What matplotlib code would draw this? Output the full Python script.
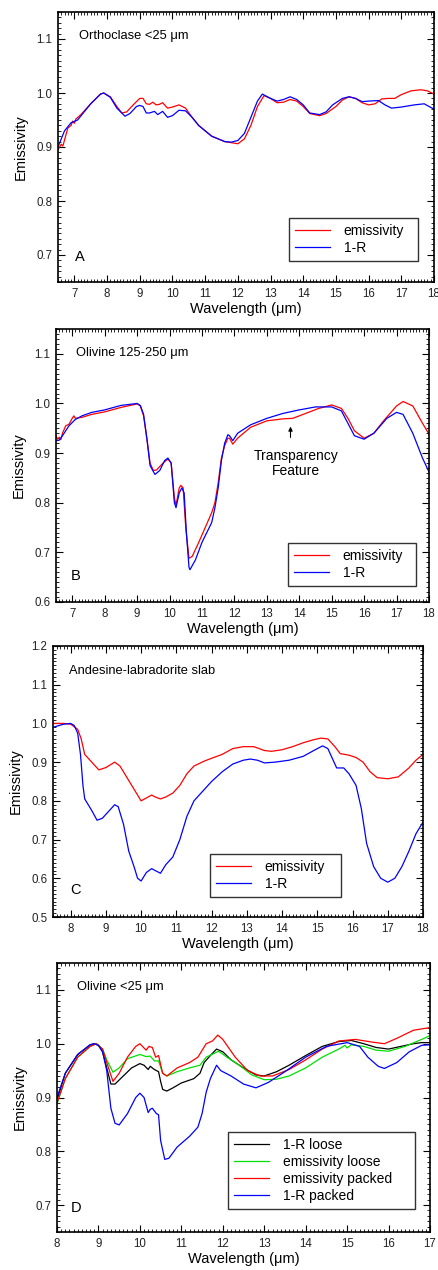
import numpy as np
import matplotlib.pyplot as plt
from matplotlib.ticker import MultipleLocator

plt.rcParams['font.family'] = ['Liberation Sans', 'DejaVu Sans']

# ---- Panel A: Orthoclase <25 um ----
a_em_x = [6.5, 6.6, 6.65, 6.8, 6.9, 6.95, 7.0, 7.05, 7.2, 7.5, 7.8, 7.9, 8.1, 8.3, 8.45, 8.6, 8.8, 9.0,
          9.1, 9.2, 9.3, 9.4, 9.5, 9.6, 9.7, 9.85, 10.0, 10.2, 10.4, 10.6, 10.8, 11.0, 11.2, 11.4,
          11.6, 11.8, 12.0, 12.2, 12.4, 12.6, 12.8, 13.0, 13.2, 13.4, 13.6, 13.8, 14.0, 14.2, 14.5,
          14.7, 15.0, 15.2, 15.4, 15.6, 15.8, 16.0, 16.2, 16.4, 16.6, 16.8, 17.0, 17.3, 17.6, 17.8, 18.0]
a_em_y = [0.895, 0.905, 0.902, 0.935, 0.94, 0.948, 0.944, 0.952, 0.96, 0.98, 0.998, 1.0, 0.993, 0.975,
          0.963, 0.965, 0.978, 0.99, 0.99, 0.98, 0.979, 0.983, 0.978, 0.979, 0.982, 0.972, 0.974,
          0.978, 0.972, 0.955, 0.94, 0.93, 0.92, 0.915, 0.91, 0.908, 0.906, 0.915, 0.94, 0.975, 0.995,
          0.99, 0.982, 0.983, 0.988, 0.985, 0.975, 0.962, 0.958, 0.962, 0.975, 0.987, 0.993, 0.99,
          0.982, 0.978, 0.98, 0.989, 0.99, 0.99, 0.997, 1.004, 1.006, 1.004, 0.998]
a_r_x = [6.5, 6.7, 6.9, 7.1, 7.3, 7.5, 7.8, 7.9, 8.1, 8.3, 8.55, 8.7, 8.9, 9.0, 9.1, 9.2, 9.3, 9.45,
         9.55, 9.7, 9.85, 10.0, 10.2, 10.4, 10.6, 10.8, 11.0, 11.2, 11.4, 11.6, 11.8, 12.0, 12.2, 12.4,
         12.6, 12.75, 13.0, 13.2, 13.4, 13.6, 13.8, 14.0, 14.2, 14.5, 14.7, 14.9, 15.2, 15.4, 15.6,
         15.8, 16.0, 16.3, 16.5, 16.7, 17.0, 17.4, 17.7, 18.0]
a_r_y = [0.9, 0.93, 0.945, 0.95, 0.965, 0.98, 0.998, 1.0, 0.992, 0.972, 0.957, 0.962, 0.975, 0.977,
         0.975, 0.963, 0.963, 0.966, 0.96, 0.966, 0.955, 0.958, 0.968, 0.967, 0.955, 0.94, 0.93, 0.92,
         0.915, 0.91, 0.909, 0.912, 0.925, 0.955, 0.985, 0.998, 0.99, 0.985, 0.988, 0.993, 0.988,
         0.978, 0.963, 0.96, 0.965, 0.978, 0.99, 0.993, 0.99, 0.984, 0.985, 0.986, 0.978, 0.972,
         0.974, 0.978, 0.98, 0.97]

# ---- Panel B: Olivine 125-250 um ----
b_em_x = [6.5, 6.55, 6.6, 6.65, 6.7, 6.8, 6.9, 7.0, 7.05, 7.1, 7.3, 7.6, 8.0, 8.5, 9.0, 9.1, 9.2, 9.3,
          9.4, 9.5, 9.6, 9.8, 9.95, 10.05, 10.15, 10.2, 10.3, 10.35, 10.42, 10.5, 10.6, 10.7, 10.9,
          11.1, 11.3, 11.4, 11.5, 11.6, 11.7, 11.8, 11.85, 11.95, 12.1, 12.5, 13.0, 13.5, 13.8, 14.2,
          14.6, 15.0, 15.3, 15.5, 15.7, 16.0, 16.3, 16.6, 17.0, 17.2, 17.5, 17.8, 18.0]
b_em_y = [0.935, 0.928, 0.932, 0.927, 0.94, 0.955, 0.958, 0.97, 0.975, 0.97, 0.972, 0.978, 0.983,
          0.992, 0.999, 0.995, 0.975, 0.93, 0.88, 0.865, 0.866, 0.88, 0.888, 0.88, 0.81, 0.795, 0.83,
          0.835, 0.83, 0.75, 0.688, 0.692, 0.72, 0.75, 0.78, 0.8, 0.84, 0.89, 0.915, 0.93, 0.93,
          0.918, 0.93, 0.952, 0.965, 0.969, 0.97, 0.98, 0.99, 0.997, 0.99, 0.97, 0.945, 0.93, 0.94,
          0.965, 0.995, 1.004, 0.995, 0.96, 0.938]
b_r_x = [6.5, 6.6, 6.7, 6.9, 7.1, 7.3, 7.6, 8.0, 8.5, 9.0, 9.1, 9.2, 9.3, 9.4, 9.55, 9.7, 9.85, 9.95,
         10.05, 10.15, 10.2, 10.3, 10.38, 10.45, 10.52, 10.6, 10.63, 10.8, 11.0, 11.3, 11.4, 11.5,
         11.6, 11.7, 11.8, 11.85, 11.95, 12.1, 12.5, 13.0, 13.5, 14.0, 14.5, 15.0, 15.3, 15.5, 15.7,
         16.0, 16.3, 16.7, 17.0, 17.2, 17.5, 17.8, 18.0]
b_r_y = [0.925, 0.926, 0.935, 0.955, 0.968, 0.975, 0.982, 0.987, 0.996, 1.0, 0.996, 0.978, 0.93,
         0.875, 0.857, 0.865, 0.885, 0.89, 0.88, 0.8, 0.79, 0.82, 0.83, 0.82, 0.74, 0.67, 0.665,
         0.685, 0.72, 0.76, 0.79, 0.83, 0.885, 0.92, 0.937, 0.935, 0.925, 0.94, 0.957, 0.97, 0.98,
         0.987, 0.993, 0.993, 0.985, 0.96, 0.935, 0.928, 0.94, 0.97, 0.982, 0.978, 0.94, 0.89, 0.862]

# ---- Panel C: Andesine-labradorite slab ----
c_em_x = [7.5, 7.8, 8.0, 8.2, 8.3, 8.4, 8.6, 8.8, 9.0, 9.25, 9.4, 9.6, 9.8, 10.0, 10.1, 10.3, 10.4,
          10.55, 10.7, 10.9, 11.1, 11.3, 11.5, 11.8, 12.0, 12.3, 12.6, 12.9, 13.2, 13.5, 13.7, 14.0,
          14.3, 14.6, 14.9, 15.1, 15.3, 15.5, 15.65, 15.9, 16.1, 16.3, 16.5, 16.7, 17.0, 17.3, 17.6,
          17.8, 18.0]
c_em_y = [1.0, 1.0, 0.998, 0.985, 0.96, 0.92, 0.9, 0.88, 0.886, 0.9, 0.89, 0.86, 0.83, 0.8, 0.805,
          0.815, 0.81, 0.805, 0.81, 0.82, 0.84, 0.87, 0.89, 0.903, 0.91, 0.92, 0.935, 0.94, 0.94,
          0.93, 0.928, 0.932, 0.94, 0.95, 0.958, 0.962, 0.96, 0.94, 0.922, 0.918, 0.912, 0.9, 0.875,
          0.86, 0.857, 0.862, 0.885, 0.905, 0.92]
c_r_x = [7.5, 7.8, 8.0, 8.1, 8.2, 8.28, 8.35, 8.4, 8.5, 8.6, 8.75, 8.9, 9.1, 9.25, 9.35, 9.5, 9.65,
         9.8, 9.9, 10.0, 10.15, 10.3, 10.4, 10.55, 10.7, 10.9, 11.1, 11.3, 11.5, 11.8, 12.0, 12.3,
         12.6, 12.9, 13.1, 13.3, 13.5, 13.8, 14.2, 14.6, 14.9, 15.15, 15.3, 15.45, 15.55, 15.75,
         15.9, 16.1, 16.25, 16.4, 16.6, 16.8, 17.0, 17.2, 17.4, 17.6, 17.8, 18.0]
c_r_y = [0.99, 0.998, 1.0, 0.995, 0.975, 0.92, 0.84, 0.805, 0.79, 0.775, 0.75, 0.755, 0.775, 0.79,
         0.785, 0.74, 0.67, 0.63, 0.6, 0.593, 0.615, 0.625, 0.62, 0.613, 0.635, 0.655, 0.7, 0.76,
         0.8, 0.83, 0.85, 0.875, 0.895, 0.905, 0.908, 0.905, 0.898, 0.9, 0.905, 0.915, 0.93, 0.942,
         0.935, 0.905, 0.885, 0.885, 0.87, 0.84, 0.78, 0.69, 0.63, 0.6, 0.59, 0.6, 0.63, 0.67,
         0.715, 0.745]

# ---- Panel D: Olivine <25 um ----
d_rl_x = [8.0, 8.2, 8.5, 8.8, 8.9, 9.0, 9.1, 9.2, 9.3, 9.4, 9.6, 9.8, 10.0, 10.1, 10.2, 10.25, 10.35,
          10.45, 10.5, 10.55, 10.65, 10.8, 11.0, 11.3, 11.45, 11.55, 11.7, 11.85, 12.0, 12.2, 12.5,
          12.8, 13.0, 13.3, 13.6, 14.0, 14.4, 14.8, 15.1, 15.4, 15.7, 16.0, 16.3, 16.6, 16.8, 17.0]
d_rl_y = [0.895, 0.945, 0.98, 0.998, 1.0, 0.997, 0.985, 0.955, 0.925, 0.925, 0.94, 0.955, 0.963,
          0.96, 0.952, 0.958, 0.952, 0.948, 0.93, 0.915, 0.912, 0.918, 0.927, 0.935, 0.945, 0.965,
          0.978, 0.99, 0.985, 0.97, 0.955, 0.942, 0.94, 0.948, 0.96, 0.978, 0.995, 1.004, 1.006,
          1.0, 0.993, 0.99, 0.995, 1.0, 1.002, 1.002]
d_el_x = [8.0, 8.2, 8.5, 8.8, 8.95, 9.1, 9.2, 9.35, 9.5, 9.7, 10.0, 10.15, 10.25, 10.35, 10.45, 10.55,
          10.65, 10.9, 11.2, 11.45, 11.6, 11.9, 12.1, 12.4, 12.7, 13.0, 13.3, 13.6, 14.0, 14.4, 14.8,
          14.95, 15.0, 15.1, 15.4, 15.7, 16.0, 16.4, 16.8, 17.0]
d_el_y = [0.888, 0.935, 0.975, 0.995, 1.0, 0.99, 0.97, 0.947, 0.955, 0.972, 0.98, 0.976, 0.977,
          0.968, 0.968, 0.945, 0.94, 0.948, 0.955, 0.96, 0.975, 0.986, 0.975, 0.96, 0.942, 0.933,
          0.934, 0.94, 0.955, 0.975, 0.99, 0.997, 0.992, 0.998, 0.995, 0.988, 0.986, 0.995, 1.008,
          1.015]
d_ep_x = [8.0, 8.2, 8.5, 8.8, 8.95, 9.1, 9.2, 9.35, 9.5, 9.7, 9.9, 10.0, 10.15, 10.22, 10.3, 10.38,
          10.45, 10.55, 10.65, 10.9, 11.2, 11.4, 11.6, 11.75, 11.88, 12.0, 12.3, 12.6, 12.9, 13.2,
          13.6, 14.0, 14.4, 14.8, 15.2, 15.6, 15.9, 16.2, 16.6, 17.0]
d_ep_y = [0.89, 0.935, 0.975, 0.995, 1.0, 0.99, 0.965, 0.93, 0.945, 0.975, 0.995, 1.0, 0.988, 0.995,
          0.993, 0.975, 0.978, 0.945, 0.94, 0.955, 0.965, 0.975, 1.0, 1.005, 1.016, 1.008, 0.975,
          0.95, 0.94, 0.94, 0.952, 0.97, 0.99, 1.005, 1.008, 1.003, 1.0, 1.01, 1.025, 1.03]
d_rp_x = [8.0, 8.2, 8.5, 8.8, 8.9, 9.0, 9.1, 9.2, 9.3, 9.4, 9.5, 9.7, 9.9, 10.0, 10.1, 10.2, 10.25,
          10.3, 10.4, 10.45, 10.5, 10.6, 10.7, 10.9, 11.2, 11.4, 11.5, 11.6, 11.7, 11.85, 11.95, 12.2,
          12.5, 12.8, 13.1, 13.5, 14.0, 14.5, 15.0, 15.3, 15.5, 15.75, 15.9, 16.2, 16.5, 16.8, 17.0]
d_rp_y = [0.9, 0.945, 0.98, 0.998, 1.0, 0.997, 0.985, 0.95, 0.88, 0.852, 0.849, 0.87, 0.9, 0.908,
          0.9, 0.872, 0.878, 0.88, 0.87, 0.868, 0.82, 0.785, 0.787, 0.808, 0.828, 0.845, 0.87, 0.91,
          0.935, 0.96, 0.95, 0.94, 0.925, 0.918, 0.928, 0.948, 0.975, 0.995, 1.002, 0.995, 0.975,
          0.958, 0.954, 0.965, 0.985, 0.997, 0.998]

W, H = 438, 1270
fig = plt.figure(figsize=(W / 100, H / 100), dpi=100)


def make_ax(left, right, top, bottom):
    return fig.add_axes([left / W, 1 - bottom / H, (right - left) / W, (bottom - top) / H])


def style(ax, xlim, ylim, xmajor):
    ax.set_xlim(*xlim)
    ax.set_ylim(*ylim)
    ax.xaxis.set_major_locator(MultipleLocator(xmajor))
    ax.xaxis.set_minor_locator(MultipleLocator(0.1))
    ax.yaxis.set_major_locator(MultipleLocator(0.1))
    ax.yaxis.set_minor_locator(MultipleLocator(0.01))
    ax.tick_params(which='both', direction='in', top=True, right=True, labelsize=8.3, pad=4,
                   labelcolor='#222222')
    ax.tick_params(which='major', length=5, width=0.8)
    ax.tick_params(which='minor', length=2.5, width=0.6)
    for s in ax.spines.values():
        s.set_linewidth(1.2)
    ax.set_xlabel('Wavelength (μm)', fontsize=10.5, labelpad=2)
    ax.set_ylabel('Emissivity', fontsize=10.5, labelpad=6)


def add_legend(ax, box):
    x0, y0, x1, y1 = box
    leg = ax.legend(loc='upper left', bbox_to_anchor=(x0 / W, 1 - y1 / H, (x1 - x0) / W, (y1 - y0) / H),
                    bbox_transform=fig.transFigure, mode='expand', fontsize=10, frameon=True,
                    fancybox=False, handlelength=2.5, borderpad=0.45, labelspacing=0.2,
                    handletextpad=1.0, borderaxespad=0)
    leg.get_frame().set_edgecolor('black')
    leg.get_frame().set_linewidth(1.0)


lw = 0.9

# A
ax = make_ax(58, 434, 12, 282)
ax.plot(a_em_x, a_em_y, color='red', lw=lw, label='emissivity')
ax.plot(a_r_x, a_r_y, color='blue', lw=lw, label='1-R')
style(ax, (6.5, 18), (0.65, 1.15), 1)
ax.set_xticks(range(7, 19))
ax.text(0.056, 0.912, 'Orthoclase <25 μm', transform=ax.transAxes, fontsize=9.3, va='center')
ax.text(0.044, 0.093, 'A', transform=ax.transAxes, fontsize=10.5, va='center')
add_legend(ax, (289, 218, 418, 262))

# B
ax = make_ax(56, 429, 329, 602)
ax.plot(b_em_x, b_em_y, color='red', lw=lw, label='emissivity')
ax.plot(b_r_x, b_r_y, color='blue', lw=lw, label='1-R')
style(ax, (6.5, 18), (0.6, 1.15), 1)
ax.set_xticks(range(7, 19))
ax.text(0.054, 0.912, 'Olivine 125-250 μm', transform=ax.transAxes, fontsize=9.3, va='center')
ax.text(0.04, 0.096, 'B', transform=ax.transAxes, fontsize=10.5, va='center')
ax.annotate('', xy=(13.73, 0.959), xytext=(13.73, 0.926),
            arrowprops=dict(arrowstyle='-|>', color='black', lw=0.8, mutation_scale=6))
ax.text(13.9, 0.879, 'Transparency\nFeature', fontsize=10, ha='center', va='center',
        linespacing=1.15)
add_legend(ax, (288, 543, 416, 587))

# C
ax = make_ax(53, 423, 646, 917)
ax.plot(c_em_x, c_em_y, color='red', lw=lw, label='emissivity')
ax.plot(c_r_x, c_r_y, color='blue', lw=lw, label='1-R')
style(ax, (7.5, 18), (0.5, 1.2), 1)
ax.set_xticks(range(8, 19))
ax.text(0.044, 0.909, 'Andesine-labradorite slab', transform=ax.transAxes, fontsize=9.3, va='center')
ax.text(0.046, 0.1, 'C', transform=ax.transAxes, fontsize=10.5, va='center')
add_legend(ax, (210, 854, 341, 897))

# D
ax = make_ax(57, 430, 963, 1232)
ax.plot(d_rl_x, d_rl_y, color='black', lw=lw, label='1-R loose')
ax.plot(d_el_x, d_el_y, color='#00e000', lw=lw, label='emissivity loose')
ax.plot(d_ep_x, d_ep_y, color='red', lw=lw, label='emissivity packed')
ax.plot(d_rp_x, d_rp_y, color='blue', lw=lw, label='1-R packed')
style(ax, (8, 17), (0.65, 1.15), 1)
ax.text(0.053, 0.91, 'Olivine <25 μm', transform=ax.transAxes, fontsize=9.3, va='center')
ax.text(0.037, 0.089, 'D', transform=ax.transAxes, fontsize=10.5, va='center')
add_legend(ax, (228, 1132, 415, 1216))

fig.savefig('out.png', dpi=100)
